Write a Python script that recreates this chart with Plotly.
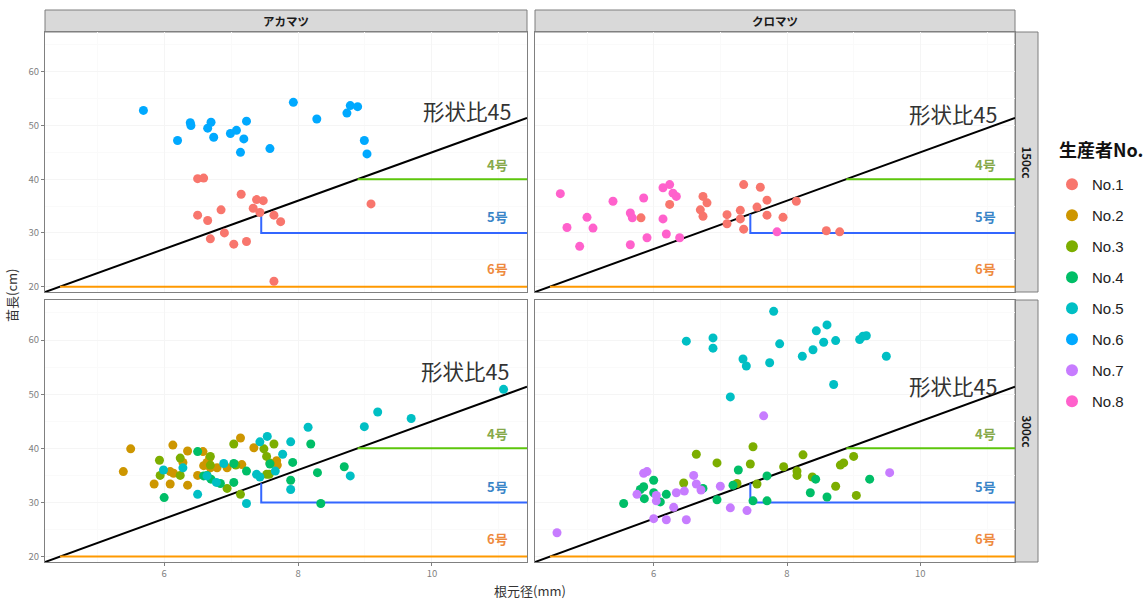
import plotly.graph_objects as go

# ---- data: root-collar diameter (mm) and seedling height (cm) ----
# アカマツ 150cc
a150_no1_d = [6.50, 6.59, 7.15, 7.38, 7.48, 7.33, 6.85, 6.50, 6.65, 7.43, 7.64, 7.74, 6.90, 6.69, 7.04, 7.23, 7.64, 9.09]
a150_no1_h = [40.1, 40.2, 37.2, 36.2, 36.0, 34.6, 34.3, 33.3, 32.3, 33.8, 33.3, 32.1, 30.0, 28.9, 27.9, 28.4, 21.0, 35.4]
a150_no6_d = [5.69, 6.20, 6.39, 6.40, 6.65, 6.70, 6.74, 6.99, 7.08, 7.19, 7.23, 7.14, 7.58, 7.93, 8.28, 8.73, 8.78, 8.89, 8.99, 9.03]
a150_no6_h = [52.8, 47.2, 50.5, 50.0, 49.5, 50.6, 47.8, 48.5, 49.1, 47.5, 50.8, 45.0, 45.7, 54.3, 51.2, 52.3, 53.7, 53.5, 47.2, 44.7]

# クロマツ 150cc
k150_no1_d = [5.81, 6.24, 6.74, 6.80, 6.70, 6.74, 7.10, 7.10, 7.30, 7.30, 7.35, 7.35, 7.60, 7.55, 7.70, 7.70, 7.94, 8.14, 8.59, 8.79]
k150_no1_h = [32.8, 35.3, 36.8, 35.6, 34.3, 33.1, 33.4, 31.7, 34.2, 32.6, 39.0, 30.7, 38.5, 34.8, 36.1, 33.3, 32.9, 35.9, 30.4, 30.2]
k150_no8_d = [4.60, 4.70, 4.89, 5.00, 5.09, 5.39, 5.65, 5.68, 5.65, 5.85, 5.90, 6.14, 6.24, 6.29, 6.34, 6.14, 6.19, 6.39, 7.85]
k150_no8_h = [37.3, 31.0, 27.5, 32.9, 30.9, 35.9, 33.7, 32.8, 27.8, 36.5, 29.1, 38.4, 39.0, 37.4, 36.8, 32.6, 29.8, 29.1, 30.2]

# アカマツ 300cc
a300_no2_d = [5.39, 5.50, 5.85, 6.09, 6.13, 6.09, 6.14, 6.28, 6.35, 6.35, 6.50, 6.58, 6.59, 6.64, 6.68, 6.69, 6.79, 6.94, 7.14, 7.16, 7.34, 7.68, 7.69]
a300_no2_h = [35.7, 39.9, 33.4, 33.4, 40.6, 35.7, 35.4, 37.4, 39.5, 33.2, 35.0, 39.4, 36.8, 37.4, 38.3, 36.4, 36.4, 36.4, 41.9, 37.0, 40.1, 37.7, 36.9]
a300_no3_d = [5.93, 5.94, 6.24, 6.24, 6.69, 6.69, 7.04, 7.07, 6.94, 7.14, 7.49, 7.53, 7.58, 7.53, 7.57, 7.64]
a300_no3_h = [37.8, 35.0, 38.2, 35.0, 38.5, 36.9, 40.8, 36.9, 32.6, 31.5, 39.9, 38.5, 37.3, 35.2, 35.2, 40.8]
a300_no4_d = [6.00, 6.50, 6.59, 6.64, 6.70, 6.84, 7.04, 7.04, 7.23, 7.92, 8.19, 8.29, 7.89, 8.69, 8.34, 7.58]
a300_no4_h = [30.9, 39.4, 34.9, 35.0, 34.3, 33.5, 37.2, 33.7, 35.8, 37.4, 40.8, 35.5, 34.1, 36.6, 29.8, 37.1]
a300_no5_d = [5.99, 6.28, 6.50, 6.64, 6.78, 6.89, 7.23, 7.38, 7.43, 7.54, 7.66, 7.77, 7.89, 7.89, 8.15, 8.78, 8.99, 9.19, 9.69, 11.07, 7.43]
a300_no5_h = [36.0, 36.4, 31.5, 34.9, 33.7, 37.2, 29.8, 35.2, 41.2, 42.2, 35.8, 38.9, 41.2, 32.4, 43.9, 34.9, 44.0, 46.7, 45.5, 50.9, 34.7]

# クロマツ 300cc
k300_no3_d = [6.64, 6.95, 6.45, 7.25, 7.45, 7.49, 7.55, 7.95, 8.15, 8.15, 8.24, 8.38, 8.73, 8.80, 8.85, 9.00, 9.04]
k300_no3_h = [38.9, 37.3, 33.6, 33.5, 37.1, 40.3, 33.4, 36.6, 35.8, 35.0, 38.8, 34.7, 33.0, 36.9, 37.3, 38.5, 31.3]
k300_no4_d = [5.55, 5.80, 5.85, 5.86, 6.00, 6.00, 6.10, 6.19, 6.74, 6.95, 7.19, 7.27, 7.70, 7.70, 7.49, 8.35, 8.43, 8.60, 9.24]
k300_no4_h = [29.8, 32.4, 32.9, 30.7, 34.1, 31.8, 30.1, 31.5, 32.6, 30.5, 33.2, 36.0, 34.9, 30.3, 30.3, 31.8, 34.3, 31.0, 34.3]
k300_no5_d = [6.49, 6.89, 6.89, 7.80, 7.34, 7.39, 7.74, 7.89, 7.15, 8.23, 8.39, 8.44, 8.55, 8.60, 8.73, 8.70, 9.09, 9.14, 9.19, 9.49]
k300_no5_h = [59.8, 60.4, 58.5, 65.3, 56.5, 55.2, 55.8, 59.3, 49.5, 57.0, 58.2, 61.7, 59.6, 62.8, 59.9, 51.8, 60.1, 60.7, 60.8, 57.0]
k300_no7_d = [4.55, 5.85, 5.90, 5.75, 6.04, 6.04, 6.00, 6.19, 6.30, 6.34, 6.46, 6.49, 6.60, 6.64, 6.71, 7.00, 7.15, 7.40, 7.65, 9.54]
k300_no7_h = [24.4, 35.4, 35.7, 31.5, 31.3, 30.3, 27.0, 26.8, 29.1, 31.8, 32.1, 26.8, 35.0, 33.4, 32.3, 33.0, 29.0, 28.5, 46.0, 35.5]

producers = ["No.1", "No.2", "No.3", "No.4", "No.5", "No.6", "No.7", "No.8"]
producer_colors = ["#F8766D", "#CD9600", "#7CAE00", "#00BE67", "#00BFC4", "#00A9FF", "#C77CFF", "#FF61CC"]
legend_title = "生産者No."

species = ["アカマツ", "クロマツ"]
volumes = ["150cc", "300cc"]

# shape-ratio line (height cm * 10 / diameter mm = 45) and pot-grade thresholds
shape_ratio = 45
ratio_label = "形状比45"
grade_names = ["4号", "5号", "6号"]
grade_min_height = [40, 30, 20]
grade5_min_diameter = 7.45
grade_line_colors = ["#5DC60C", "#3366FF", "#FF9900"]
grade_text_colors = ["#86A94A", "#3A85C8", "#EE8A3E"]

x_range = [4.22, 11.42]
y_range = [19.0, 67.4]

# (species index, volume index) -> {producer: (d, h)}
panels = {
    (0, 0): {"No.1": (a150_no1_d, a150_no1_h), "No.6": (a150_no6_d, a150_no6_h)},
    (1, 0): {"No.1": (k150_no1_d, k150_no1_h), "No.8": (k150_no8_d, k150_no8_h)},
    (0, 1): {"No.2": (a300_no2_d, a300_no2_h), "No.3": (a300_no3_d, a300_no3_h),
             "No.4": (a300_no4_d, a300_no4_h), "No.5": (a300_no5_d, a300_no5_h)},
    (1, 1): {"No.3": (k300_no3_d, k300_no3_h), "No.4": (k300_no4_d, k300_no4_h),
             "No.5": (k300_no5_d, k300_no5_h), "No.7": (k300_no7_d, k300_no7_h)},
}
# label positions of the ratio text per panel (diameter, height)
ratio_label_pos = {(0, 0): (10.52, 52.7), (1, 0): (10.49, 52.2), (0, 1): (10.49, 54.3), (1, 1): (10.49, 51.6)}
grade_label_pos = [(10.98, 42.8), (10.98, 33.0), (10.98, 23.4)]

W, H = 1148, 603
col_px = [(45, 527), (535, 1015)]
row_px = [(32, 292), (300, 562)]
strip_top = (10, 32)
strip_right = (1015, 1038)


def px_x(p):
    return p / W


def px_y(p):
    return 1 - p / H


FONT = "Noto Sans CJK JP, Liberation Sans, sans-serif"
fig = go.Figure()
layout = {}

shown = set()
for (ci, ri), groups in panels.items():
    n = ri * 2 + ci + 1
    xa = "x" if n == 1 else f"x{n}"
    ya = "y" if n == 1 else f"y{n}"

    # black shape-ratio line across the panel
    fig.add_trace(go.Scatter(x=x_range, y=[v * shape_ratio / 10 for v in x_range], mode="lines",
                             line=dict(color="black", width=2), xaxis=xa, yaxis=ya,
                             showlegend=False, hoverinfo="skip"))
    # grade lines
    for gi, hmin in enumerate(grade_min_height):
        if gi == 1:
            d0 = grade5_min_diameter
            xs = [d0, d0, x_range[1]]
            ys = [d0 * shape_ratio / 10, hmin, hmin]
        else:
            d0 = hmin * 10 / shape_ratio
            xs = [d0, x_range[1]]
            ys = [hmin, hmin]
        fig.add_trace(go.Scatter(x=xs, y=ys, mode="lines",
                                 line=dict(color=grade_line_colors[gi], width=2),
                                 xaxis=xa, yaxis=ya, showlegend=False, hoverinfo="skip"))

    for name, (d, h) in groups.items():
        k = producers.index(name)
        fig.add_trace(go.Scatter(x=d, y=h, mode="markers", name=name,
                                 marker=dict(color=producer_colors[k], size=9),
                                 xaxis=xa, yaxis=ya, legendgroup=name, legendrank=k + 1,
                                 showlegend=name not in shown))
        shown.add(name)

    x0, x1 = col_px[ci]
    y0, y1 = row_px[ri]
    layout[("xaxis" if n == 1 else f"xaxis{n}")] = dict(
        domain=[px_x(x0), px_x(x1)], range=x_range, anchor=ya,
        tickvals=[6, 8, 10], showticklabels=(ri == 1), ticks="outside" if ri == 1 else "",
        ticklen=3, tickcolor="#7F7F7F", tickfont=dict(size=9.5, color="#7F7F7F", family=FONT),
        showgrid=True, gridcolor="#F5F5F5", gridwidth=1,
        minor=dict(tickvals=[5, 7, 9, 11], showgrid=True, gridcolor="#FAFAFA"),
        zeroline=False, showline=True, linecolor="#808080", linewidth=1, mirror=True,
    )
    layout[("yaxis" if n == 1 else f"yaxis{n}")] = dict(
        domain=[px_y(y1), px_y(y0)], range=y_range, anchor=xa,
        tickvals=[20, 30, 40, 50, 60], showticklabels=(ci == 0), ticks="outside" if ci == 0 else "",
        ticklen=3, tickcolor="#7F7F7F", tickfont=dict(size=9.5, color="#7F7F7F", family=FONT),
        showgrid=True, gridcolor="#F5F5F5", gridwidth=1,
        minor=dict(tickvals=[25, 35, 45, 55, 65], showgrid=True, gridcolor="#FAFAFA"),
        zeroline=False, showline=True, linecolor="#808080", linewidth=1, mirror=True,
    )

annotations = []
shapes = []
for (ci, ri) in panels:
    n = ri * 2 + ci + 1
    xa = "x" if n == 1 else f"x{n}"
    ya = "y" if n == 1 else f"y{n}"
    lx, ly = ratio_label_pos[(ci, ri)]
    annotations.append(dict(x=lx, y=ly, xref=xa, yref=ya, text=ratio_label, showarrow=False,
                            xanchor="center", yanchor="middle",
                            font=dict(size=21.5, color="#333333", family=FONT)))
    for gi, (gx, gy) in enumerate(grade_label_pos):
        annotations.append(dict(x=gx, y=gy, xref=xa, yref=ya, text=f"<b>{grade_names[gi]}</b>",
                                showarrow=False, xanchor="center", yanchor="middle",
                                font=dict(size=13, color=grade_text_colors[gi], family=FONT)))

# facet strips
for ci, sp in enumerate(species):
    x0, x1 = col_px[ci]
    shapes.append(dict(type="rect", xref="paper", yref="paper", x0=px_x(x0), x1=px_x(x1),
                       y0=px_y(strip_top[1]), y1=px_y(strip_top[0]),
                       fillcolor="#D9D9D9", line=dict(color="#7F7F7F", width=1), layer="below"))
    annotations.append(dict(x=px_x((x0 + x1) / 2), y=px_y(sum(strip_top) / 2), xref="paper", yref="paper",
                            text=f"<b>{sp}</b>", showarrow=False, xanchor="center", yanchor="middle",
                            font=dict(size=11.5, color="#1A1A1A", family=FONT)))
for ri, vol in enumerate(volumes):
    y0, y1 = row_px[ri]
    shapes.append(dict(type="rect", xref="paper", yref="paper", x0=px_x(strip_right[0]), x1=px_x(strip_right[1]),
                       y0=px_y(y1), y1=px_y(y0),
                       fillcolor="#D9D9D9", line=dict(color="#7F7F7F", width=1), layer="below"))
    annotations.append(dict(x=px_x(sum(strip_right) / 2), y=px_y((y0 + y1) / 2), xref="paper", yref="paper",
                            text=f"<b>{vol}</b>", showarrow=False, textangle=90,
                            xanchor="center", yanchor="middle",
                            font=dict(size=11.5, color="#1A1A1A", family=FONT)))

# axis titles
annotations.append(dict(x=px_x(530), y=px_y(590), xref="paper", yref="paper", text="根元径(mm)",
                        showarrow=False, xanchor="center", yanchor="middle",
                        font=dict(size=13, color="#333333", family=FONT)))
annotations.append(dict(x=px_x(11), y=px_y(296), xref="paper", yref="paper", text="苗長(cm)",
                        showarrow=False, textangle=-90, xanchor="center", yanchor="middle",
                        font=dict(size=13, color="#333333", family=FONT)))
# legend heading
annotations.append(dict(x=px_x(1057), y=px_y(149), xref="paper", yref="paper", text=f"<b>{legend_title}</b>",
                        showarrow=False, xanchor="left", yanchor="middle",
                        font=dict(size=18, color="#111111", family=FONT)))

fig.update_layout(
    width=W, height=H,
    margin=dict(l=0, r=0, t=0, b=0),
    paper_bgcolor="white", plot_bgcolor="white",
    annotations=annotations, shapes=shapes,
    legend=dict(
        x=px_x(1052), y=px_y(168), xanchor="left", yanchor="top",
        font=dict(size=15, color="#222222", family="Liberation Sans, Noto Sans CJK JP"),
        tracegroupgap=8.5, itemsizing="constant", bgcolor="rgba(0,0,0,0)",
    ),
    **layout,
)

fig.write_html("out.html")
